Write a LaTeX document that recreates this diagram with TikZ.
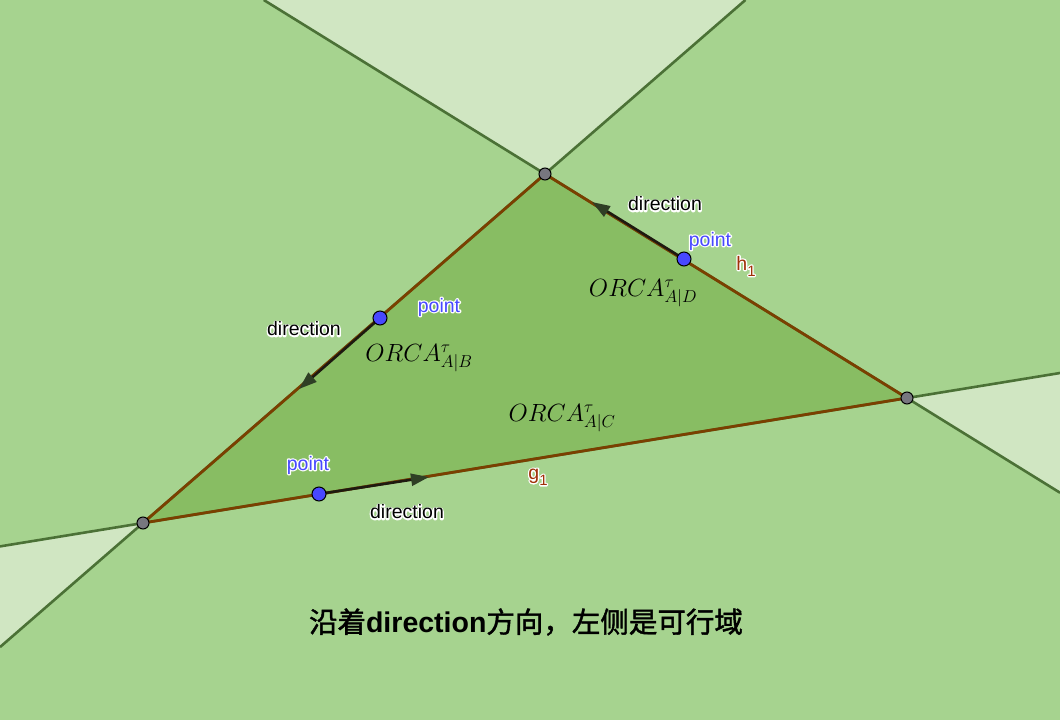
\documentclass[tikz,border=0pt]{standalone}
\usepackage{fontspec}
\setmainfont{Liberation Sans}
\newfontfamily\cjk[FakeBold=1.5]{Noto Sans CJK SC}
\usetikzlibrary{arrows.meta}
\definecolor{lightg}{HTML}{D0E6C2}
\definecolor{midg}{HTML}{A6D38F}
\definecolor{darkg}{HTML}{88BD63}
\definecolor{lineg}{HTML}{4B7136}
\definecolor{edgeb}{HTML}{7A4000}
\definecolor{ptblue}{HTML}{4848FF}
\definecolor{lblred}{HTML}{A03008}
\definecolor{arrline}{HTML}{1E1A10}
\definecolor{arrhead}{HTML}{2F3F25}
\definecolor{vtxgray}{HTML}{77777F}
% white halo behind a text: a stroked white copy, then the coloured text
\newcommand{\halo}[2]{\leavevmode\rlap{\textcolor{white}{\special{pdf:code 1 Tr 2.6 w 1 j}#2\special{pdf:code 0 Tr 1 w}}}\textcolor{#1}{#2}}
\tikzset{
  gline/.style={draw=lineg,line width=2.6pt},
  edge/.style={draw=edgeb,line width=2.8pt},
  vtx/.style={circle,fill=vtxgray,draw=black,line width=1pt,inner sep=0pt,minimum size=12pt},
  pnt/.style={circle,fill=ptblue,draw=black,line width=1pt,inner sep=0pt,minimum size=14pt},
  dirarrow/.style={draw=arrline,line width=2.6pt,-{Triangle[length=18pt,width=12pt,color=arrhead]}},
  lbl/.style={font=\fontsize{19.5}{22}\selectfont,inner sep=0pt},
  mathlbl/.style={font=\fontsize{24}{26}\selectfont,inner sep=0pt},
}
\newcommand{\dirtext}{\halo{black}{direction}}
\newcommand{\pttext}{\halo{ptblue}{point}}
\begin{document}
\begin{tikzpicture}[x=1pt,y=-1pt]
\useasboundingbox (0,0) rectangle (1060,720);
% key points
\coordinate (A) at (545,174);
\coordinate (B) at (907,398);
\coordinate (C) at (143,523);
\coordinate (L1a) at (0,647.1);
\coordinate (L1b) at (745.4,0);
\coordinate (L2a) at (263.8,0);
\coordinate (L2b) at (1060,492.7);
\coordinate (L3a) at (0,546.4);
\coordinate (L3b) at (1060,373.0);
% regions
\fill[midg] (0,0) rectangle (1060,720);
\fill[lightg] (A) -- (L2a) -- (L1b) -- cycle;
\fill[lightg] (B) -- (L3b) -- (L2b) -- cycle;
\fill[lightg] (C) -- (L3a) -- (L1a) -- cycle;
\fill[darkg] (A) -- (B) -- (C) -- cycle;
% lines
\draw[gline] (L1a) -- (L1b);
\draw[gline] (L2a) -- (L2b);
\draw[gline] (L3a) -- (L3b);
\draw[edge] (A) -- (B) -- (C) -- cycle;
% direction arrows
\coordinate (PD) at (684,259);
\coordinate (PB) at (380,318);
\coordinate (PC) at (319,494);
\coordinate (HD) at (592,202);
\coordinate (HB) at (299,389);
\coordinate (HC) at (429,477);
\draw[dirarrow] (PD) -- (HD);
\draw[dirarrow] (PB) -- (HB);
\draw[dirarrow] (PC) -- (HC);
% vertices and points
\node[vtx] (vA) at (A) {};
\node[vtx] (vB) at (B) {};
\node[vtx] (vC) at (C) {};
\node[pnt] (pD) at (PD) {};
\node[pnt] (pB) at (PB) {};
\node[pnt] (pC) at (PC) {};
% labels
\node[lbl] (dD) at (665,204) {\dirtext};
\node[lbl] (tD) at (710,241) {\pttext};
\node[lbl] (h1) at (746,266) {\halo{lblred}{h\raisebox{-6pt}{\fontsize{15}{15}\selectfont 1}}};
\node[lbl] (dB) at (304,329) {\dirtext};
\node[lbl] (tB) at (439,307) {\pttext};
\node[lbl] (tC) at (308,465) {\pttext};
\node[lbl] (dC) at (407,512) {\dirtext};
\node[lbl] (g1) at (538,477) {\halo{lblred}{g\raisebox{-6pt}{\fontsize{15}{15}\selectfont 1}}};
\node[mathlbl] (oD) at (643,293) {$ORCA^{\tau}_{A|D}$};
\node[mathlbl] (oB) at (419,358) {$ORCA^{\tau}_{A|B}$};
\node[mathlbl] (oC) at (562,418) {$ORCA^{\tau}_{A|C}$};
\node[inner sep=0pt,font=\fontsize{28.5}{30}\selectfont] (cap) at (526,622) {{\cjk 沿着}\textbf{direction}{\cjk 方向，左侧是可行域}};
\end{tikzpicture}
\end{document}
